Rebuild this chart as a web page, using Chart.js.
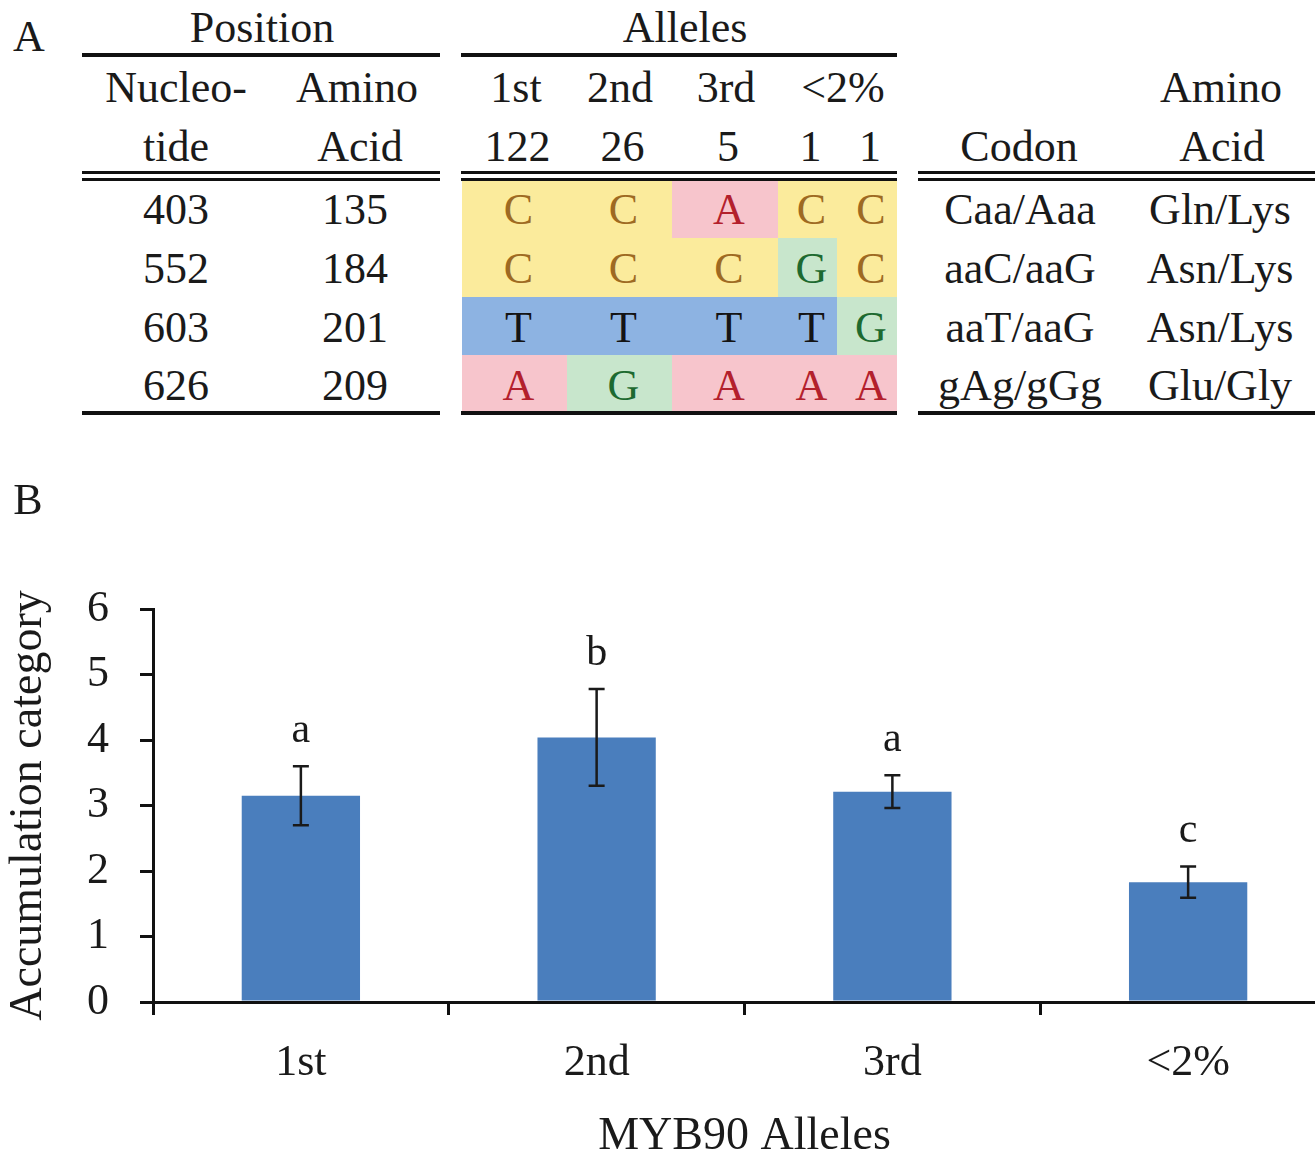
<!DOCTYPE html>
<html>
<head>
<meta charset="utf-8">
<script src="https://cdn.jsdelivr.net/npm/chart.js@4.4.1/dist/chart.umd.min.js"></script>
<style>
    html, body { margin: 0; padding: 0; background: #fff; overflow: hidden; }
    #fig { position: relative; width: 1315px; height: 1155px; overflow: hidden; }
    .t { position: absolute; transform: translate(-50%, -50%); line-height: 1; white-space: nowrap;
         font-family: 'Liberation Serif', 'Times New Roman', serif; font-size: 44px; color: #1a1a1a; }
    .r { position: absolute; background: #111; }
    .cell { position: absolute; }
    #chartBox { position: absolute; left: 0; top: 480px; }
</style>
</head>
<body>
<div id="fig">
    <div id="chartBox"><canvas id="alleleChart" width="1340" height="680"></canvas></div>
</div>
<script>
// table (panel A)
const nucleotidePos = ['403', '552', '603', '626'];
const aminoPos = ['135', '184', '201', '209'];
const alleleNames = ['1st', '2nd', '3rd', '<2%'];
const alleleCounts = ['122', '26', '5', '1', '1'];
const alleleBases = [
    ['C', 'C', 'A', 'C', 'C'],
    ['C', 'C', 'C', 'G', 'C'],
    ['T', 'T', 'T', 'T', 'G'],
    ['A', 'G', 'A', 'A', 'A']
];
const codons = ['Caa/Aaa', 'aaC/aaG', 'aaT/aaG', 'gAg/gGg'];
const aminoChanges = ['Gln/Lys', 'Asn/Lys', 'Asn/Lys', 'Glu/Gly'];

// chart (panel B)
const categories = ['1st', '2nd', '3rd', '<2%'];
const meanValues = [3.15, 4.04, 3.21, 1.83];
const errValues = [0.45, 0.74, 0.25, 0.24];
const groupLetters = ['a', 'b', 'a', 'c'];
const yTicks = [0, 1, 2, 3, 4, 5, 6];

const baseColors = {
    C: { bg: '#fbeb9c', fg: '#9e6a22' },
    A: { bg: '#f7c5cc', fg: '#b3202c' },
    G: { bg: '#c8e6cc', fg: '#1d6a30' },
    T: { bg: '#8db3e2', fg: '#141414' }
};

const fig = document.getElementById('fig');

function put(txt, cx, cy, color) {
    const d = document.createElement('div');
    d.className = 't';
    d.textContent = txt;
    d.style.left = cx + 'px';
    d.style.top = cy + 'px';
    if (color) d.style.color = color;
    fig.appendChild(d);
}

function rule(x1, x2, y, h) {
    const d = document.createElement('div');
    d.className = 'r';
    d.style.left = x1 + 'px';
    d.style.width = (x2 - x1) + 'px';
    d.style.top = y + 'px';
    d.style.height = h + 'px';
    fig.appendChild(d);
}

function box(x1, x2, y1, y2, color) {
    const d = document.createElement('div');
    d.className = 'cell';
    d.style.left = x1 + 'px';
    d.style.width = (x2 - x1) + 'px';
    d.style.top = y1 + 'px';
    d.style.height = (y2 - y1) + 'px';
    d.style.background = color;
    fig.appendChild(d);
}

// layout of table A
const colEdges = [462, 567, 672, 778, 837, 897];
const rowEdges = [181, 238, 297, 355, 411];
const rowY = [210, 269, 328, 386];
const groups = [[82, 440], [461, 897], [918, 1315]];

alleleBases.forEach((row, r) => {
    row.forEach((b, c) => {
        box(colEdges[c], colEdges[c + 1], rowEdges[r], rowEdges[r + 1], baseColors[b].bg);
    });
});

put('A', 29, 37);
put('B', 28, 500);
put('Position', 262, 28);
put('Alleles', 685, 28);
rule(82, 440, 53, 4);
rule(461, 897, 53, 4);

put('Nucleo-', 176, 88);
put('tide', 176, 147);
put('Amino', 357, 88);
put('Acid', 360, 147);

const alleleHeadX = [516, 620, 726, 843];
alleleNames.forEach((n, i) => put(n, alleleHeadX[i], 88));
alleleCounts.forEach((n, i) => put(n, (colEdges[i] + colEdges[i + 1]) / 2 + 3, 147));

put('Amino', 1221, 88);
put('Codon', 1019, 147);
put('Acid', 1222, 147);

groups.forEach(g => {
    rule(g[0], g[1], 171, 3);
    rule(g[0], g[1], 178, 3);
    rule(g[0], g[1], 411, 4);
});

rowY.forEach((y, r) => {
    put(nucleotidePos[r], 176, y);
    put(aminoPos[r], 355, y);
    alleleBases[r].forEach((b, c) => {
        put(b, (colEdges[c] + colEdges[c + 1]) / 2 + 4, y, baseColors[b].fg);
    });
    put(codons[r], 1020, y);
    put(aminoChanges[r], 1220, y);
});

// chart B
const serif = 'Liberation Serif';

const errorBarPlugin = {
    id: 'errorBars',
    afterDatasetsDraw(chart) {
        const ctx = chart.ctx;
        const yScale = chart.scales.y;
        const meta = chart.getDatasetMeta(0);
        ctx.save();
        ctx.strokeStyle = '#1a1a1a';
        ctx.lineWidth = 2.5;
        ctx.fillStyle = '#1a1a1a';
        ctx.font = '42px ' + serif;
        ctx.textAlign = 'center';
        ctx.textBaseline = 'alphabetic';
        meta.data.forEach((bar, i) => {
            const x = bar.x;
            const yHi = yScale.getPixelForValue(meanValues[i] + errValues[i]);
            const yLo = yScale.getPixelForValue(meanValues[i] - errValues[i]);
            ctx.beginPath();
            ctx.moveTo(x, yHi);
            ctx.lineTo(x, yLo);
            ctx.moveTo(x - 8, yHi);
            ctx.lineTo(x + 8, yHi);
            ctx.moveTo(x - 8, yLo);
            ctx.lineTo(x + 8, yLo);
            ctx.stroke();
            ctx.fillText(groupLetters[i], x, yHi - 24);
        });
        ctx.restore();
    }
};

const config = {
    type: 'bar',
    data: {
        labels: categories,
        datasets: [{
            data: meanValues,
            backgroundColor: '#4a7ebd',
            borderWidth: 0,
            barPercentage: 0.4,
            categoryPercentage: 1
        }]
    },
    options: {
        responsive: false,
        animation: false,
        layout: { padding: { top: 129, right: 4, left: 0, bottom: 0 } },
        plugins: {
            legend: { display: false },
            tooltip: { enabled: false }
        },
        scales: {
            x: {
                grid: { drawOnChartArea: false, color: '#111', lineWidth: 3, tickLength: 13 },
                border: { color: '#111', width: 3 },
                ticks: { color: '#1a1a1a', font: { family: serif, size: 44 }, padding: 22 },
                title: {
                    display: true,
                    text: 'MYB90 Alleles',
                    color: '#1a1a1a',
                    font: { family: serif, size: 46, lineHeight: 1 },
                    padding: 0
                },
                afterFit(scale) { scale.height = 158; }
            },
            y: {
                min: 0,
                max: 6,
                afterBuildTicks(scale) { scale.ticks = yTicks.map(v => ({ value: v })); },
                grid: { drawOnChartArea: false, color: '#111', lineWidth: 3, tickLength: 13 },
                border: { color: '#111', width: 3 },
                ticks: { color: '#1a1a1a', font: { family: serif, size: 44 }, padding: 31 },
                title: {
                    display: true,
                    text: 'Accumulation category',
                    color: '#1a1a1a',
                    font: { family: serif, size: 46, lineHeight: 1.25 },
                    padding: 0
                },
                afterFit(scale) { scale.width = 153; }
            }
        }
    },
    plugins: [errorBarPlugin]
};

new Chart('alleleChart', config);
</script>
</body>
</html>
